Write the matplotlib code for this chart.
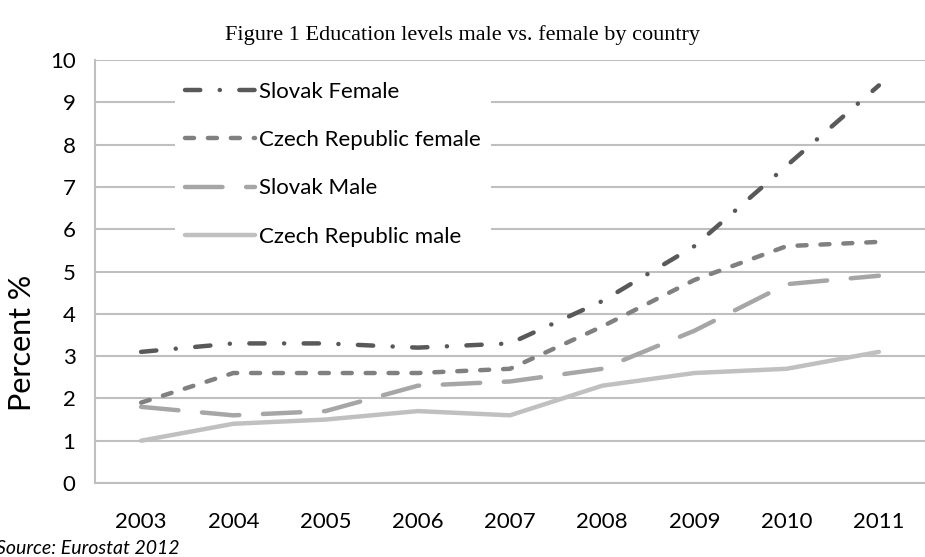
import matplotlib

matplotlib.use("Agg")
import matplotlib.pyplot as plt

plt.rcParams["font.family"] = ["Lato", "DejaVu Sans"]
plt.rcParams["lines.scale_dashes"] = False

years = ["2003", "2004", "2005", "2006", "2007", "2008", "2009", "2010", "2011"]
slovak_female = [3.1, 3.3, 3.3, 3.2, 3.3, 4.3, 5.6, 7.5, 9.4]
czech_female = [1.9, 2.6, 2.6, 2.6, 2.7, 3.7, 4.8, 5.6, 5.7]
slovak_male = [1.8, 1.6, 1.7, 2.3, 2.4, 2.7, 3.6, 4.7, 4.9]
czech_male = [1.0, 1.4, 1.5, 1.7, 1.6, 2.3, 2.6, 2.7, 3.1]

GRID = "#bfbfbf"

fig = plt.figure(figsize=(9.25, 5.57), dpi=100)
ax = fig.add_axes([95 / 925, 1 - 483 / 557, 830 / 925, 423 / 557])

x = range(len(years))
lw = 3.2
ax.plot(x, slovak_female, color="#595959", lw=lw, dash_capstyle="round",
        dashes=(11, 14, 0.1, 14), label="Slovak Female", zorder=4)
ax.plot(x, czech_female, color="#808080", lw=lw, dash_capstyle="round",
        dashes=(6.5, 10), label="Czech Republic female", zorder=3)
ax.plot(x, slovak_male, color="#a6a6a6", lw=lw, dash_capstyle="round",
        dashes=(27, 17), label="Slovak Male", zorder=2)
ax.plot(x, czech_male, color="#c0c0c0", lw=lw, solid_capstyle="round",
        label="Czech Republic male", zorder=1)

ax.set_xlim(-0.5, len(years) - 0.5)
ax.set_ylim(0, 10)
ax.set_yticks(range(0, 11))
ax.set_xticks(list(x))
ax.set_xticklabels(years)
ax.tick_params(axis="both", length=0, labelsize=16, colors="black")
ax.tick_params(axis="x", pad=21)
ax.tick_params(axis="y", pad=14)
ax.yaxis.grid(True, color=GRID, lw=1.5)
ax.set_axisbelow(True)
for side in ["top", "right"]:
    ax.spines[side].set_visible(False)
for side in ["left", "bottom"]:
    ax.spines[side].set_color(GRID)
    ax.spines[side].set_linewidth(1.5)

# y label sits low in the original, not centred on the axis
fig.text(22 / 925, 1 - 343 / 557, "Percent %", fontsize=22, rotation=90,
         ha="center", va="center")

leg = ax.legend(loc="upper left", bbox_to_anchor=(175 / 925, 1 - 72 / 557),
                bbox_transform=fig.transFigure, fontsize=16, frameon=True,
                facecolor="white", edgecolor="none", framealpha=1,
                handlelength=3.15, handletextpad=0.2, labelspacing=1.27,
                borderpad=0.45, borderaxespad=0, fancybox=False)

fig.text(0.5, 1 - 35 / 557, "Figure 1 Education levels male vs. female by country",
         family=["Liberation Serif", "DejaVu Serif"], fontsize=16,
         ha="center", va="center")
fig.text(-0.004, 1 - 548 / 557, "Source: Eurostat 2012", style="italic",
         fontsize=14, ha="left", va="center")

fig.savefig("out.png", dpi=100)
